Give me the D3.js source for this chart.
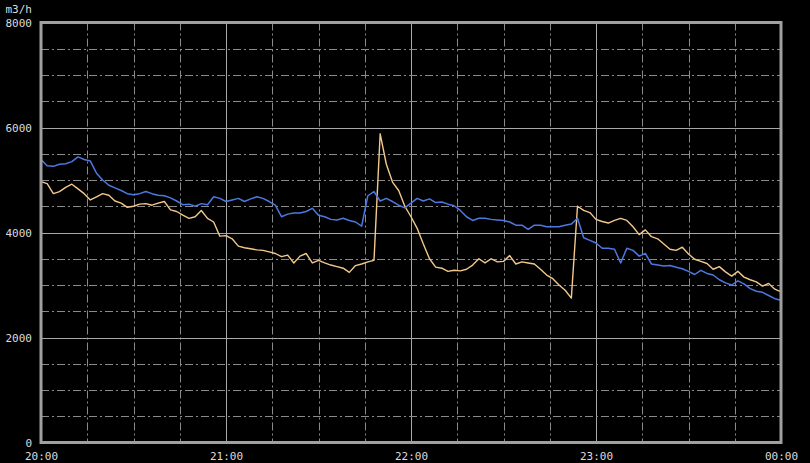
<!DOCTYPE html>
<html>
<head>
<meta charset="utf-8">
<script src="https://cdn.jsdelivr.net/npm/d3@7"></script>
<style>
  html, body { margin: 0; padding: 0; background: #000; }
  svg { display: block; }
</style>
</head>
<body>
<svg id="chart" width="810" height="463"></svg>
<script>
// Minutes after 20:00, sampled every 2 minutes
const minutes = d3.range(0, 241, 2);

const xTickMinutes = [0, 60, 120, 180, 240];
const xTickLabels = ["20:00", "21:00", "22:00", "23:00", "00:00"];
const yTickValues = [0, 2000, 4000, 6000, 8000];
const yUnit = "m3/h";

const blueValues = [
  5390, 5270, 5260, 5300, 5310, 5350, 5440, 5390, 5360, 5130,
  5000, 4900, 4850, 4800, 4740, 4720, 4740, 4780, 4740, 4710,
  4700, 4660, 4600, 4530, 4540, 4500, 4550, 4530, 4680, 4650,
  4590, 4620, 4650, 4590, 4640, 4680, 4650, 4590, 4520, 4300,
  4350, 4370, 4370, 4400, 4460, 4330, 4300, 4250, 4240, 4270,
  4230, 4200, 4120, 4700, 4780, 4600, 4650, 4590, 4520, 4470,
  4560, 4650, 4600, 4640, 4570, 4580, 4540, 4510, 4420, 4300,
  4230, 4270, 4270, 4250, 4240, 4230, 4200, 4140, 4140, 4060,
  4140, 4140, 4110, 4110, 4110, 4140, 4160, 4270, 3900, 3850,
  3800, 3700, 3700, 3680, 3420, 3700, 3660, 3550, 3600, 3400,
  3380, 3360, 3370, 3340, 3310, 3260, 3200, 3280, 3220, 3190,
  3100, 3040, 3000, 3080, 3020, 2930, 2880, 2860, 2800, 2740,
  2710
];

const orangeValues = [
  4970, 4930, 4740, 4780, 4860, 4920, 4830, 4740, 4620, 4680,
  4740, 4710, 4600, 4560, 4480, 4500, 4540, 4550, 4520, 4560,
  4590, 4430, 4400, 4330, 4270, 4300, 4420, 4270, 4200, 3930,
  3940, 3880, 3740, 3710, 3690, 3670, 3660, 3630, 3600, 3540,
  3570, 3420, 3550, 3600, 3420, 3470, 3420, 3380, 3350, 3320,
  3240, 3370, 3400, 3440, 3470, 5880, 5300, 4960, 4800, 4500,
  4300, 4080, 3780, 3500, 3340, 3320, 3260, 3280, 3270, 3300,
  3380, 3500, 3420, 3500, 3440, 3450, 3560, 3400, 3440, 3420,
  3400, 3300, 3190, 3120, 3000, 2900, 2750, 4500, 4420, 4380,
  4250, 4210, 4180, 4230, 4270, 4230, 4110, 3960, 4050, 3920,
  3880, 3780, 3680, 3660, 3720, 3590, 3490, 3450, 3410, 3300,
  3350, 3250, 3170, 3260, 3150, 3100, 3060, 2980, 3030, 2920,
  2870
];

const svg = d3.select("#chart");
const padL = 41, padR = 781, padT = 22.5, padB = 442.5;

const x = d3.scaleLinear().domain([0, 240]).range([padL, padR]);
const y = d3.scaleLinear().domain([0, 8000]).range([padB, padT]);

const font = "'DejaVu Sans Mono', monospace";
const textColor = "#dcdcdc";

// Grid
const grid = svg.append("g");
d3.range(0, 241, 15).forEach(m => {
  if (m === 0 || m === 240) return;
  const major = m % 60 === 0;
  grid.append("line")
    .attr("x1", Math.round(x(m)) + 0.5).attr("x2", Math.round(x(m)) + 0.5)
    .attr("y1", padT).attr("y2", padB)
    .attr("stroke", major ? "#a8a8a8" : "#8a8a8a")
    .attr("stroke-width", 1)
    .attr("stroke-dasharray", major ? null : "8,3,2,3");
});
d3.range(0, 8001, 500).forEach(v => {
  if (v === 0 || v === 8000) return;
  const major = v % 2000 === 0;
  grid.append("line")
    .attr("x1", padL).attr("x2", padR)
    .attr("y1", Math.round(y(v)) + 0.5).attr("y2", Math.round(y(v)) + 0.5)
    .attr("stroke", major ? "#a8a8a8" : "#8a8a8a")
    .attr("stroke-width", 1)
    .attr("stroke-dasharray", major ? null : "8,3,2,3");
});

// Lines
const line = d3.line()
  .x((d, i) => x(minutes[i]))
  .y(d => y(d));

svg.append("path")
  .datum(orangeValues)
  .attr("fill", "none")
  .attr("stroke", "#f2c88c")
  .attr("stroke-width", 1.4)
  .attr("stroke-linejoin", "round")
  .attr("d", line);

svg.append("path")
  .datum(blueValues)
  .attr("fill", "none")
  .attr("stroke", "#4d78e2")
  .attr("stroke-width", 1.5)
  .attr("stroke-linejoin", "round")
  .attr("d", line);

// Frame
svg.append("rect")
  .attr("x", padL).attr("y", padT)
  .attr("width", padR - padL).attr("height", padB - padT)
  .attr("fill", "none")
  .attr("stroke", "#a0a0a0")
  .attr("stroke-width", 3);

// Y axis
const yAxis = d3.axisLeft(y)
  .tickValues(yTickValues)
  .tickSize(0)
  .tickPadding(9)
  .tickFormat(d3.format("d"));
const gy = svg.append("g").attr("transform", `translate(${padL},0)`).call(yAxis);
gy.select(".domain").remove();
gy.selectAll("text")
  .attr("fill", textColor)
  .style("font-family", font)
  .style("font-size", "11px");
gy.selectAll(".tick").filter(d => d === 0).select("text").attr("dy", "0.4em");

svg.append("text")
  .attr("x", padL - 9).attr("y", 9)
  .attr("text-anchor", "end")
  .attr("dy", "0.35em")
  .attr("fill", textColor)
  .style("font-family", font)
  .style("font-size", "11px")
  .text(yUnit);

// X axis
const xAxis = d3.axisBottom(x)
  .tickValues(xTickMinutes)
  .tickSize(0)
  .tickPadding(10)
  .tickFormat((d, i) => xTickLabels[i]);
const gx = svg.append("g").attr("transform", `translate(0,${padB})`).call(xAxis);
gx.select(".domain").remove();
gx.selectAll("text")
  .attr("fill", textColor)
  .style("font-family", font)
  .style("font-size", "11px");
</script>
</body>
</html>
